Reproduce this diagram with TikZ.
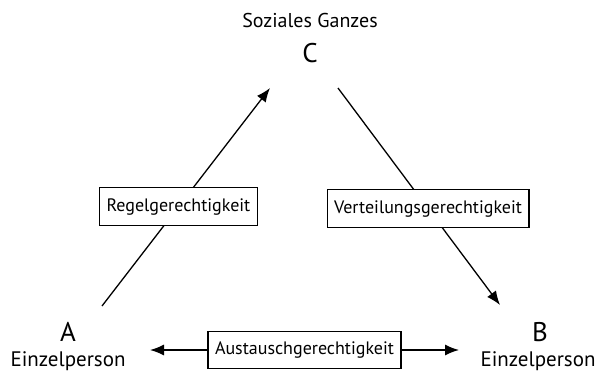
\documentclass[tikz,border=0pt]{standalone}
\usepackage{fontspec}
\setmainfont{PT Sans}
\usetikzlibrary{arrows.meta}
\begin{document}
\begin{tikzpicture}[x=1pt,y=-1pt,
  lbl/.style={draw,fill=white,line width=1.3pt,font=\fontsize{18}{20}\selectfont,minimum height=38pt,inner xsep=7pt},
  big/.style={font=\fontsize{27}{29}\selectfont,inner sep=0pt,anchor=base},
  sub/.style={font=\fontsize{20}{22}\selectfont,inner sep=0pt,anchor=base},
  esub/.style={font=\fontsize{21}{23}\selectfont,inner sep=0pt,anchor=base},
  conn/.style={line width=1.3pt},
  tip/.style={-{Latex[length=14pt,width=11pt]}}]
\useasboundingbox (0,0) rectangle (598,376);
\node[sub] (ctitle) at (310,27) {Soziales Ganzes};
\node[big] (C) at (310,62) {C};
\node[big] (A) at (68,341) {A};
\node[esub] (Asub) at (68,366) {Einzelperson};
\node[big] (B) at (540,341) {B};
\node[esub] (Bsub) at (538,366) {Einzelperson};
\coordinate (a1) at (102,306);
\coordinate (c1) at (270,88);
\coordinate (c2) at (338,88);
\coordinate (b1) at (500,305);
\coordinate (l1) at (150,350);
\coordinate (r1) at (459,350);
\draw[conn,tip] (a1) -- (c1) node[lbl,pos=0.455] (regel) {Regelgerechtigkeit};
\draw[conn,tip] (c2) -- (b1) node[lbl,pos=0.556] (vert) {Verteilungsgerechtigkeit};
\draw[conn,{Latex[length=14pt,width=11pt]}-{Latex[length=14pt,width=11pt]}] (l1) -- (r1) node[lbl,midway,minimum height=37pt] (aus) {Austauschgerechtigkeit};
\end{tikzpicture}
\end{document}
